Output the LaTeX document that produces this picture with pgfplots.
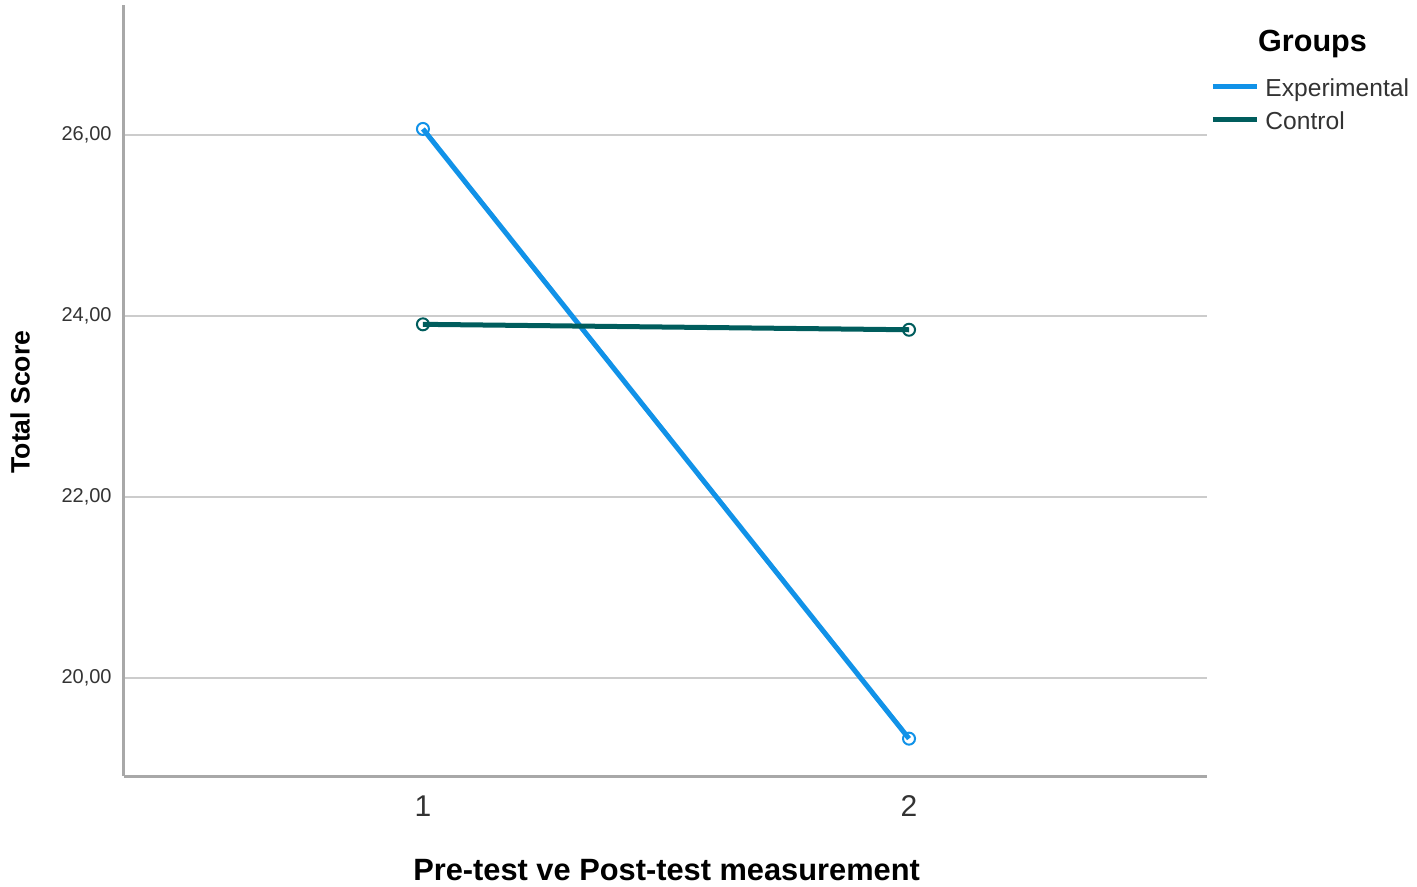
\documentclass[border=0pt]{standalone}
\usepackage{pgfplots}
\pgfplotsset{compat=1.18}
\usepackage{fontspec}
\setmainfont{Liberation Sans}
\definecolor{expblue}{HTML}{1192E8}
\definecolor{ctrlteal}{HTML}{005D5D}
\definecolor{spine}{HTML}{A8A8A8}
\definecolor{gridc}{HTML}{CCCCCC}
\definecolor{ticktext}{HTML}{333333}
\begin{document}
\begin{tikzpicture}
\begin{axis}[
  at={(0,0)}, anchor=south west,
  scale only axis, width=541.5bp, height=385.5bp,
  xmin=0.385, xmax=2.613, ymin=18.917, ymax=27.44,
  axis x line*=bottom, axis y line*=left,
  axis line style={spine, line width=1.5bp, -},
  xtick={1,2}, ytick={20,22,24,26},
  yticklabels={20{,}00,22{,}00,24{,}00,26{,}00},
  major tick length=0pt,
  ymajorgrids, grid style={gridc, line width=1bp},
  /pgf/number format/assume math mode=true,
  xticklabel style={font=\fontsize{15bp}{18bp}\selectfont, text=ticktext, inner sep=0pt, anchor=north, yshift=-9.5bp},
  yticklabel style={font=\fontsize{10bp}{12bp}\selectfont, text=ticktext, inner sep=0pt, anchor=east, xshift=-6bp},
  xlabel={Pre-test ve Post-test measurement},
  xlabel style={font=\bfseries\fontsize{15.4bp}{18bp}\selectfont, at={(axis description cs:0.501,-0.1349)}, anchor=base},
  ylabel={Total Score},
  ylabel style={font=\bfseries\fontsize{13.3bp}{16bp}\selectfont, at={(axis description cs:-0.096,0.485)}, anchor=center},
  legend image code/.code={\draw[#1, line width=2.5bp] (0bp,1.5bp) -- (22bp,1.5bp);},
  legend cell align=left,
  legend style={at={(1.0028,0.8684)}, anchor=west, draw=none, fill=none, inner sep=0pt,
    font=\fontsize{12.3bp}{15bp}\selectfont, text=ticktext, row sep=3.5bp,
    nodes={inner sep=0pt, text height=10bp, text depth=3bp},
    /tikz/every odd column/.append style={column sep=3bp}},
]
\addplot[expblue, line width=2.5bp, mark=o, mark size=3bp, mark options={fill=white, line width=1bp}]
  coordinates {(1,26.07) (2,19.33)};
\addlegendentry{Experimental}
\addplot[ctrlteal, line width=2.5bp, mark=o, mark size=3bp, mark options={fill=white, line width=1bp}]
  coordinates {(1,23.91) (2,23.85)};
\addlegendentry{Control}
\end{axis}
\node[font=\bfseries\fontsize{15.3bp}{18bp}\selectfont, anchor=center] at (594.25bp,366bp) {Groups};
\pgfresetboundingbox
\path[use as bounding box] (-62bp,-55.5bp) rectangle (646.5bp,388bp);
\end{tikzpicture}
\end{document}
